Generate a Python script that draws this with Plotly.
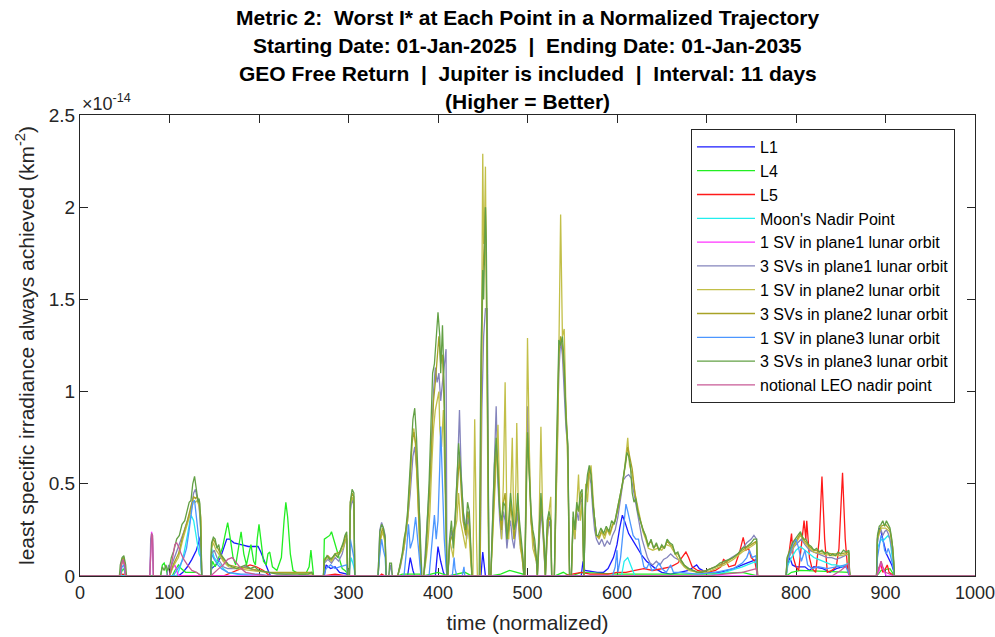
import plotly.graph_objects as go

# ---------------- data (values in units of 1e-14 km^-2) ----------------
series_names = ["L1", "L4", "L5", "Moon's Nadir Point", "1 SV in plane1 lunar orbit",
                "3 SVs in plane1 lunar orbit", "1 SV in plane2 lunar orbit",
                "3 SVs in plane2 lunar orbit", "1 SV in plane3 lunar orbit",
                "3 SVs in plane3 lunar orbit", "notional LEO nadir point"]

L1 = [(0,0),(110,0),(115,0.02),(120,0.05),(125,0.09),(130,0.14),(133,0.19),(135,0.22),(136,0),
      (146,0),(147,0.04),(152,0.06),(157,0.1),(161,0.16),(164,0.2),(167,0.2),(172,0.18),(180,0.17),(188,0.16),(195,0.16),(199,0.16),(202,0.13),(205,0.09),(208,0.05),(211,0.02),(213,0),
      (273,0),(275,0.06),(280,0.04),(285,0.05),(290,0.02),(298,0.01),(299,0),
      (366,0),(369,0.1),(372,0.03),(374,0),
      (397,0),(400,0.16),(403,0.08),(406,0.02),(408,0),
      (448,0),(450,0.13),(452,0.02),(453,0),
      (560,0),(562,0.08),(564,0.03),(578,0.02),(585,0.02),(590,0.04),(596,0.1),(600,0.17),(603,0.26),(606,0.33),(609,0.29),(613,0.23),(618,0.19),(623,0.15),(628,0.11),(633,0.08),(638,0.06),(643,0.04),(650,0.02),(660,0.01),(670,0.02),(680,0.03),(686,0.05),(689,0.06),(692,0.04),(700,0.02),(715,0.02),(730,0.04),(745,0.07),(756,0.09),(757,0),
      (789,0),(790,0.05),(793,0.1),(796,0.06),(800,0.05),(810,0.05),(815,0.03),(820,0.05),(830,0.04),(838,0.02),(845,0.04),(852,0.05),(859,0.05),(860,0),
      (890,0),(891,0.2),(893,0.26),(895,0.24),(897,0.2),(899,0.15),(901,0.12),(903,0.1),(905,0.08),(907,0.06),(909,0.03),(910,0),(1000,0)]

L4 = [(0,0),(45,0),(47,0.03),(49,0.04),(51,0),
      (90,0),(92,0.06),(94,0.07),(96,0.04),(98,0),
      (103,0),(106,0.03),(110,0.06),(113,0.04),(118,0.02),(130,0.02),(136,0),
      (146,0),(148,0.08),(151,0.05),(155,0.1),(159,0.15),(162,0.22),(165,0.29),(168,0.2),(171,0.1),(174,0.06),(177,0.14),(180,0.24),(183,0.12),(186,0.06),(189,0.13),(191,0.17),(194,0.08),(196,0.06),(198,0.2),(200,0.28),(202,0.2),(205,0.08),(208,0.06),(210,0.12),(212,0.13),(215,0.05),(220,0.03),(225,0.1),(228,0.3),(230,0.4),(232,0.32),(235,0.12),(238,0.03),(245,0.01),(252,0.01),(256,0.05),(258,0.14),(260,0.06),(261,0),
      (272,0),(273,0.2),(276,0.21),(279,0.22),(281,0.24),(284,0.19),(287,0.13),(290,0.08),(293,0.04),(296,0.03),(298,0.02),(299,0),
      (355,0),(360,0.01),(380,0.01),(381,0),(384,0),(400,0.02),(410,0),(412,0),(430,0.02),(438,0),(459,0),(470,0.01),(480,0.03),(495,0.01),(496,0),(530,0),(540,0.02),(547,0),(549,0),(560,0.02),(600,0.01),(650,0.01),(700,0.01),(740,0.02),(757,0),
      (789,0),(795,0.02),(805,0.03),(860,0.02),(861,0),(890,0),(895,0.03),(905,0.04),(910,0),(1000,0)]

L5 = [(0,0),(46,0),(48,0.01),(51,0),
      (160,0),(170,0.02),(180,0.04),(190,0.06),(197,0.05),(205,0.03),(212,0),
      (272,0),(285,0.01),(298,0),
      (335,0),(337,0.01),(341,0),
      (540,0),(550,0.01),(560,0.02),(570,0.01),(580,0.01),(590,0.01),(600,0.02),(610,0.02),(620,0.03),(630,0.04),(640,0.03),(650,0.04),(660,0.05),(668,0.07),(673,0.1),(677,0.13),(680,0.1),(684,0.05),(690,0.03),(700,0.02),(710,0.03),(716,0.05),(719,0.09),(722,0.08),(725,0.05),(732,0.06),(737,0.13),(741,0.21),(744,0.14),(747,0.15),(750,0.1),(754,0.08),(757,0),
      (789,0),(791,0.08),(795,0.23),(797,0.1),(800,0.05),(803,0.03),(806,0.15),(809,0.3),(811,0.2),(812,0.3),(815,0.1),(818,0.04),(822,0.02),(826,0.2),(829,0.54),(832,0.2),(835,0.02),(840,0.03),(845,0.05),(848,0.15),(852,0.56),(855,0.2),(858,0.02),(860,0),
      (890,0),(892,0.04),(895,0.06),(897,0.02),(900,0.04),(902,0.06),(904,0.02),(907,0.01),(910,0),(1000,0)]

MOON = [(0,0),(108,0),(112,0.05),(116,0.12),(120,0.22),(124,0.33),(127,0.3),(130,0.2),(133,0.12),(135,0.1),(136,0),
        (146,0),(147,0.15),(150,0.1),(155,0.07),(160,0.04),(165,0.02),(175,0.01),(190,0),
        (300,0),(303,0.1),(306,0.05),(308,0),
        (605,0),(608,0.08),(612,0.1),(616,0.05),(620,0),
        (700,0),(720,0.02),(740,0.05),(756,0.08),(757,0),
        (789,0),(791,0.06),(795,0.1),(800,0.14),(805,0.16),(810,0.14),(815,0.12),(820,0.1),(825,0.09),(830,0.08),(835,0.07),(840,0.06),(845,0.06),(850,0.05),(855,0.06),(859,0.07),(860,0),
        (890,0),(891,0.15),(893,0.18),(895,0.2),(897,0.19),(899,0.2),(901,0.21),(903,0.22),(905,0.2),(907,0.12),(909,0.05),(910,0),(1000,0)]

SV1_P1 = [(0,0),(45,0),(46,0.06),(48,0.08),(50,0.05),(51,0),(78,0),(79,0.2),(80,0.24),(81,0.2),(82,0),
          (100,0),(103,0.04),(106,0.06),(108,0.03),(110,0),
          (890,0),(893,0.03),(895,0.08),(897,0.04),(899,0.02),(901,0),(1000,0)]

SV3_P1 = [(0,0),(45,0),(46,0.07),(48,0.1),(50,0.07),(51,0),(78,0),(79,0.2),(80,0.23),(81,0.22),(82,0),
          (97,0),(99,0.06),(101,0.04),(104,0.08),(108,0.13),(112,0.18),(116,0.24),(120,0.3),(124,0.36),(127,0.45),(129,0.47),(131,0.42),(133,0.38),(135,0.25),(136,0),
          (146,0),(147,0.12),(150,0.14),(153,0.1),(156,0.08),(160,0.05),(165,0.04),(175,0.04),(185,0.05),(195,0.03),(210,0.02),(230,0.01),(259,0.02),(261,0),
          (272,0),(273,0.07),(277,0.09),(281,0.07),(285,0.1),(289,0.08),(293,0.12),(297,0.2),(298,0.2),(299,0),
          (301,0),(302,0.35),(304,0.42),(306,0.38),(307,0),
          (333,0),(335,0.25),(337,0.29),(339,0.26),(341,0.22),(342,0),
          (345,0),(347,0.06),(349,0),
          (355,0),(358,0.05),(362,0.15),(366,0.3),(369,0.45),(372,0.65),(374,0.7),(376,0.6),(378,0.48),(380,0.25),(381,0),
          (384,0),(387,0.2),(390,0.45),(393,0.75),(395,1.0),(397,1.13),(399,1.05),(401,1.1),(403,0.95),(405,1.05),(407,1.15),(409,1.23),(410,0),
          (411,0),(413,0.15),(415,0.25),(417,0.2),(419,0.3),(422,0.6),(424,0.9),(426,0.55),(428,0.35),(430,0.3),(432,0.2),(434,0.35),(436,0.2),(438,0),
          (447,0),(449,0.9),(451,1.3),(453,1.45),(455,1.45),(456,0.6),(457,0),
          (459,0),(461,0.3),(463,0.7),(465,0.92),(467,0.5),(469,0.3),(471,0.2),(473,0.35),(475,0.3),(477,0.15),(479,0.25),(481,0.3),(483,0.2),(485,0.15),(487,0.25),(489,0.35),(491,0.2),(493,0.15),(495,0.08),(496,0),
          (497,0),(499,0.7),(500,0.92),(502,0.6),(504,0.3),(506,0.2),(508,0.15),(510,0.08),(511,0),(513,0.2),(515,0.35),(517,0.25),(519,0.1),(520,0),(522,0.2),(524,0.3),(526,0.25),(527,0),
          (530,0),(532,0.5),(534,0.9),(535,1.1),(537,1.28),(539,1.2),(541,1.0),(543,0.8),(545,0.7),(546,0.3),(547,0),
          (549,0),(551,0.3),(553,0.2),(555,0.35),(557,0.3),(559,0.4),(561,0.42),(562,0.2),(563,0),(565,0.4),(567,0.5),(569,0.55),(571,0.5),(573,0.35),(575,0.25),(577,0.2),(580,0.17),(583,0.2),(586,0.16),(589,0.19),(592,0.17),(595,0.22),(598,0.25),(601,0.32),(604,0.42),(607,0.52),(610,0.54),(613,0.55),(616,0.53),(619,0.45),(622,0.38),(625,0.3),(628,0.2),(631,0.15),(634,0.1),(637,0.07),(640,0.06),(644,0.08),(648,0.06),(652,0.09),(656,0.1),(660,0.12),(664,0.1),(668,0.09),(672,0.07),(676,0.05),(680,0.04),(685,0.03),(690,0.02),(700,0.03),(710,0.05),(720,0.07),(728,0.1),(735,0.12),(740,0.15),(745,0.18),(750,0.2),(753,0.22),(756,0.2),(757,0),
          (789,0),(790,0.08),(794,0.12),(798,0.16),(802,0.18),(806,0.2),(810,0.17),(815,0.14),(820,0.13),(825,0.12),(830,0.11),(835,0.1),(840,0.1),(845,0.09),(850,0.1),(855,0.11),(859,0.12),(860,0),
          (890,0),(891,0.18),(893,0.24),(895,0.25),(897,0.22),(899,0.24),(901,0.25),(903,0.23),(905,0.2),(907,0.15),(909,0.08),(910,0),(1000,0)]

SV1_P2 = [(0,0),(45,0),(47,0.08),(49,0.09),(51,0),
          (100,0),(104,0.05),(110,0.1),(115,0.2),(120,0.28),(124,0.35),(127,0.41),(129,0.4),(131,0.41),(133,0.38),(135,0.3),(136,0),
          (146,0),(147,0.15),(149,0.18),(152,0.14),(155,0.12),(160,0.08),(166,0.05),(175,0.04),(190,0.03),(210,0.02),(259,0.01),(261,0),
          (272,0),(273,0.08),(277,0.1),(281,0.08),(285,0.11),(290,0.12),(294,0.15),(297,0.2),(298,0.2),(299,0),
          (301,0),(302,0.38),(304,0.43),(306,0.4),(307,0),
          (333,0),(336,0.2),(338,0.24),(341,0.18),(342,0),
          (355,0),(358,0.06),(362,0.15),(366,0.3),(369,0.5),(371,0.75),(373,0.8),(375,0.7),(377,0.45),(379,0.2),(381,0),
          (384,0),(387,0.1),(389,0.2),(391,0.35),(393,0.6),(395,0.8),(397,0.9),(399,0.95),(401,1.0),(402,0.8),(404,0.7),(406,0.9),(408,0.5),(410,0),
          (411,0),(413,0.2),(415,0.15),(417,0.1),(419,0.25),(421,0.3),(423,0.45),(425,0.3),(427,0.25),(429,0.2),(431,0.15),(433,0.28),(435,0.2),(437,0.05),(438,0),
          (439,0),(441,0.85),(443,0.2),(444,0),
          (447,0),(448,1.0),(450,2.29),(451,1.8),(452,1.9),(453,2.22),(454,1.5),(455,0.8),(456,0.3),(457,0),
          (459,0),(461,0.2),(463,0.4),(465,0.6),(467,0.82),(469,0.4),(471,0.2),(473,0.5),(475,1.05),(477,0.3),(479,0.2),(481,0.4),(483,0.75),(485,0.2),(487,0.5),(488,0.83),(490,0.3),(492,0.15),(494,0.1),(496,0),
          (497,0),(499,0.8),(500,1.29),(502,0.7),(504,0.3),(506,0.15),(508,0.12),(510,0.08),(511,0),(513,0.3),(515,0.81),(517,0.3),(519,0.1),(520,0),(522,0.2),(524,0.35),(526,0.43),(527,0),
          (530,0),(532,0.4),(534,0.8),(535,1.2),(537,1.96),(539,1.3),(541,1.34),(543,0.9),(545,0.6),(546,0.3),(547,0),
          (549,0),(551,0.3),(553,0.2),(555,0.4),(557,0.55),(559,0.3),(561,0.4),(562,0.2),(563,0),(565,0.5),(567,0.4),(569,0.55),(571,0.6),(573,0.45),(575,0.3),(577,0.22),(580,0.2),(583,0.24),(586,0.2),(589,0.25),(592,0.22),(595,0.27),(598,0.3),(601,0.38),(604,0.45),(607,0.52),(610,0.65),(612,0.75),(614,0.6),(617,0.55),(620,0.45),(623,0.38),(626,0.3),(629,0.24),(632,0.2),(635,0.15),(640,0.14),(645,0.15),(650,0.14),(655,0.17),(660,0.16),(665,0.12),(670,0.08),(675,0.05),(680,0.03),(690,0.02),(700,0.02),(710,0.04),(720,0.06),(730,0.09),(740,0.13),(750,0.16),(756,0.18),(757,0),
          (789,0),(790,0.08),(795,0.14),(800,0.18),(805,0.22),(810,0.18),(815,0.15),(820,0.13),(830,0.12),(840,0.11),(850,0.11),(859,0.12),(860,0),
          (890,0),(891,0.2),(895,0.26),(900,0.26),(905,0.24),(908,0.15),(910,0),(1000,0)]

SV3_P2 = [(0,0),(45,0),(47,0.09),(49,0.1),(51,0),
          (100,0),(104,0.06),(110,0.12),(115,0.22),(120,0.3),(124,0.38),(127,0.43),(129,0.42),(131,0.43),(133,0.4),(135,0.32),(136,0),
          (146,0),(147,0.17),(149,0.2),(152,0.17),(155,0.14),(160,0.09),(166,0.06),(175,0.05),(190,0.04),(210,0.02),(259,0.02),(261,0),
          (272,0),(273,0.09),(277,0.11),(281,0.09),(285,0.12),(290,0.13),(294,0.17),(297,0.22),(298,0.22),(299,0),
          (301,0),(302,0.4),(304,0.45),(306,0.43),(307,0),
          (333,0),(336,0.22),(338,0.26),(341,0.2),(342,0),
          (355,0),(358,0.06),(362,0.17),(366,0.32),(369,0.55),(371,0.72),(373,0.78),(375,0.72),(377,0.5),(379,0.25),(381,0),
          (384,0),(387,0.15),(390,0.4),(393,0.7),(395,0.95),(397,1.05),(399,1.2),(401,1.3),(403,1.15),(405,1.2),(407,0.9),(409,0.4),(410,0),
          (411,0),(413,0.18),(416,0.22),(419,0.28),(422,0.5),(424,0.65),(426,0.45),(428,0.3),(431,0.22),(433,0.35),(435,0.3),(437,0.08),(438,0),
          (447,0),(448,0.9),(450,1.6),(452,1.85),(453,2.0),(454,1.6),(455,1.0),(456,0.4),(457,0),
          (459,0),(461,0.25),(463,0.5),(465,0.7),(467,0.6),(469,0.35),(471,0.25),(473,0.4),(475,0.45),(477,0.2),(479,0.25),(481,0.4),(483,0.3),(485,0.2),(487,0.3),(489,0.4),(491,0.25),(493,0.15),(495,0.08),(496,0),
          (497,0),(499,0.55),(500,0.75),(502,0.55),(504,0.3),(506,0.22),(508,0.15),(510,0.08),(511,0),(513,0.22),(515,0.4),(517,0.28),(519,0.12),(520,0),(522,0.25),(524,0.32),(526,0.3),(527,0),
          (530,0),(532,0.55),(534,0.95),(535,1.2),(537,1.3),(539,1.25),(541,1.1),(543,0.85),(545,0.7),(546,0.3),(547,0),
          (549,0),(551,0.32),(553,0.25),(555,0.38),(557,0.35),(559,0.42),(561,0.45),(562,0.2),(563,0),(565,0.45),(567,0.5),(569,0.58),(571,0.55),(573,0.4),(575,0.3),(577,0.22),(580,0.21),(583,0.25),(586,0.22),(589,0.26),(592,0.23),(595,0.28),(598,0.3),(601,0.36),(604,0.44),(607,0.52),(610,0.62),(612,0.7),(614,0.65),(617,0.58),(620,0.45),(623,0.36),(626,0.3),(629,0.25),(632,0.21),(635,0.17),(638,0.19),(641,0.15),(644,0.17),(647,0.14),(650,0.16),(653,0.15),(656,0.19),(659,0.17),(662,0.16),(665,0.12),(668,0.12),(671,0.09),(675,0.06),(680,0.04),(690,0.02),(700,0.03),(710,0.05),(720,0.07),(730,0.1),(740,0.14),(750,0.17),(756,0.19),(757,0),
          (789,0),(790,0.09),(795,0.15),(800,0.19),(805,0.23),(810,0.19),(815,0.16),(820,0.14),(830,0.13),(840,0.12),(850,0.12),(859,0.13),(860,0),
          (890,0),(891,0.21),(895,0.27),(900,0.28),(905,0.25),(908,0.16),(910,0),(1000,0)]

SV1_P3 = [(0,0),(45,0),(47,0.05),(49,0.06),(51,0),
          (104,0),(108,0.03),(112,0.06),(116,0.1),(119,0.15),(122,0.25),(124,0.33),(126,0.4),(128,0.41),(130,0.32),(132,0.2),(134,0.12),(135,0.1),(136,0),
          (146,0),(147,0.12),(150,0.09),(154,0.06),(158,0.04),(165,0.02),(180,0.01),(200,0.01),(212,0),
          (272,0),(275,0.04),(280,0.06),(285,0.04),(290,0.05),(298,0.06),(299,0),
          (301,0),(302,0.2),(304,0.15),(306,0.1),(307,0),
          (333,0),(335,0.12),(337,0.2),(339,0.14),(341,0.1),(342,0),
          (362,0),(365,0.15),(367,0.28),(369,0.15),(372,0.2),(375,0.32),(377,0.2),(379,0.08),(381,0),
          (390,0),(393,0.15),(396,0.33),(398,0.2),(400,0.3),(402,0.6),(403,0.81),(405,0.5),(407,0.2),(409,0.05),(410,0),
          (416,0),(418,0.1),(419,0.04),(421,0),(427,0),(429,0.05),(430,0),
          (595,0),(598,0.05),(600,0.14),(601,0.02),(604,0.1),(606,0.2),(608,0.32),(610,0.39),(612,0.35),(615,0.28),(618,0.22),(621,0.2),(624,0.2),(627,0.12),(630,0.05),(633,0.04),(636,0.07),(639,0.03),(643,0.04),(647,0.07),(650,0.04),(655,0.02),(660,0.06),(663,0.02),(670,0.02),(690,0.01),(710,0.02),(730,0.04),(740,0.07),(745,0.1),(748,0.14),(751,0.1),(755,0.11),(757,0),
          (789,0),(790,0.06),(793,0.12),(797,0.18),(800,0.2),(803,0.15),(806,0.08),(810,0.14),(813,0.06),(818,0.04),(825,0.05),(835,0.04),(845,0.05),(855,0.06),(860,0),
          (890,0),(891,0.1),(893,0.16),(895,0.22),(897,0.2),(899,0.14),(901,0.12),(903,0.15),(905,0.12),(907,0.08),(909,0.04),(910,0),(1000,0)]

SV3_P3 = [(0,0),(44,0),(45,0.06),(47,0.1),(49,0.11),(51,0.06),(52,0),
          (90,0),(92,0.05),(94,0.03),(96,0.06),(98,0.03),(100,0.05),(102,0.1),(105,0.14),(108,0.2),(111,0.22),(114,0.28),(117,0.3),(120,0.36),(122,0.4),(124,0.41),(126,0.5),(128,0.54),(130,0.48),(132,0.4),(133,0.42),(134,0.39),(135,0.2),(136,0),
          (146,0),(147,0.18),(149,0.21),(151,0.2),(153,0.15),(155,0.17),(157,0.12),(160,0.1),(163,0.08),(166,0.06),(170,0.05),(175,0.04),(180,0.05),(185,0.06),(190,0.04),(195,0.05),(200,0.03),(210,0.02),(220,0.01),(240,0.01),(255,0.01),(259,0.02),(261,0),
          (272,0),(273,0.08),(276,0.11),(279,0.09),(282,0.1),(285,0.12),(288,0.1),(291,0.14),(294,0.18),(296,0.22),(298,0.24),(299,0),
          (301,0),(302,0.4),(304,0.47),(306,0.45),(307,0),
          (333,0),(335,0.24),(337,0.28),(339,0.26),(341,0.2),(342,0),
          (345,0),(346,0.07),(348,0.07),(349,0),
          (355,0),(357,0.05),(360,0.12),(362,0.2),(364,0.25),(366,0.35),(368,0.5),(370,0.7),(372,0.85),(374,0.91),(376,0.75),(378,0.5),(380,0.3),(381,0.12),(382,0),
          (384,0),(386,0.1),(388,0.3),(390,0.5),(392,0.8),(394,1.1),(396,1.15),(398,1.3),(400,1.43),(402,1.3),(403,1.1),(405,1.36),(407,1.0),(408,0.6),(409,0.3),(410,0),
          (411,0),(413,0.2),(415,0.3),(417,0.15),(419,0.3),(421,0.55),(423,0.72),(425,0.6),(427,0.42),(429,0.3),(431,0.25),(433,0.4),(435,0.35),(437,0.1),(438,0),
          (446,0),(448,1.2),(450,1.66),(451,1.5),(453,2.0),(454,1.8),(455,1.2),(456,0.5),(457,0),
          (459,0),(461,0.3),(463,0.6),(465,0.75),(467,0.55),(469,0.35),(471,0.3),(473,0.4),(475,0.38),(477,0.2),(479,0.3),(481,0.45),(483,0.35),(485,0.25),(487,0.3),(489,0.45),(491,0.3),(493,0.2),(495,0.1),(496,0),
          (497,0),(499,0.6),(500,0.78),(502,0.55),(504,0.35),(506,0.25),(508,0.2),(510,0.1),(511,0),(513,0.25),(515,0.45),(517,0.3),(519,0.15),(520,0),(522,0.3),(524,0.35),(526,0.3),(527,0),
          (530,0),(532,0.6),(534,1.0),(535,1.28),(537,1.25),(539,1.3),(541,1.15),(543,0.85),(545,0.72),(546,0.3),(547,0),
          (549,0),(551,0.35),(553,0.25),(555,0.4),(557,0.35),(559,0.45),(561,0.47),(562,0.2),(563,0),(565,0.45),(567,0.55),(569,0.6),(571,0.55),(573,0.4),(575,0.3),(577,0.22),(579,0.22),(582,0.26),(585,0.23),(588,0.27),(591,0.24),(594,0.3),(597,0.28),(600,0.35),(603,0.42),(606,0.5),(609,0.6),(611,0.67),(613,0.65),(615,0.6),(617,0.45),(619,0.4),(621,0.42),(623,0.35),(626,0.3),(629,0.25),(632,0.22),(635,0.16),(638,0.2),(641,0.15),(644,0.18),(647,0.14),(650,0.17),(653,0.15),(656,0.2),(659,0.18),(662,0.17),(665,0.12),(668,0.13),(671,0.09),(675,0.06),(680,0.04),(685,0.03),(690,0.02),(695,0.02),(700,0.03),(705,0.04),(710,0.05),(715,0.07),(720,0.08),(725,0.09),(730,0.1),(735,0.12),(740,0.15),(745,0.16),(750,0.18),(753,0.2),(756,0.2),(757,0),
          (789,0),(790,0.1),(793,0.14),(796,0.18),(799,0.2),(802,0.22),(805,0.24),(808,0.2),(811,0.2),(814,0.17),(817,0.16),(820,0.14),(823,0.15),(826,0.13),(829,0.14),(832,0.12),(835,0.13),(838,0.11),(841,0.12),(844,0.11),(847,0.13),(850,0.12),(853,0.14),(856,0.13),(859,0.14),(860,0),
          (890,0),(891,0.22),(893,0.27),(895,0.28),(897,0.3),(899,0.27),(901,0.3),(903,0.28),(905,0.26),(907,0.2),(909,0.1),(910,0),(1000,0)]

LEO = [(0,0),(45,0),(46,0.06),(48,0.09),(50,0.06),(51,0),
       (78,0),(79,0.18),(80,0.23),(81,0.22),(82,0),
       (100,0),(102,0.05),(104,0.12),(106,0.17),(108,0.18),(110,0.16),(113,0.12),(116,0.09),(120,0.06),(125,0.03),(130,0.02),(136,0),
       (146,0),(150,0.02),(155,0.04),(160,0.06),(165,0.09),(170,0.1),(175,0.07),(180,0.04),(185,0.02),(195,0.01),(210,0),
       (700,0),(720,0.01),(740,0.02),(756,0.04),(757,0),
       (840,0),(850,0.03),(855,0.05),(859,0.07),(860,0),
       (890,0),(893,0.05),(895,0.08),(897,0.05),(900,0.02),(910,0),(1000,0)]

all_series = [L1, L4, L5, MOON, SV1_P1, SV3_P1, SV1_P2, SV3_P2, SV1_P3, SV3_P3, LEO]
colors = ["#1A1AFF", "#22EE22", "#FF1A1A", "#22EEEE", "#FF33FF", "#8484BC",
          "#C2BF48", "#A8A226", "#4C96FF", "#62A044", "#C85A96"]

x_ticks = list(range(0, 1001, 100))
y_ticks = [0, 0.5, 1, 1.5, 2, 2.5]
y_tick_text = ["0", "0.5", "1", "1.5", "2", "2.5"]

title_lines = ["Metric 2:  Worst I* at Each Point in a Normalized Trajectory",
               "Starting Date: 01-Jan-2025  |  Ending Date: 01-Jan-2035",
               "GEO Free Return  |  Jupiter is included  |  Interval: 11 days",
               "(Higher = Better)"]

# ---------------- figure ----------------
FONT = "Liberation Sans, Arial, sans-serif"
fig = go.Figure()
for i, (name, data, col) in enumerate(zip(series_names, all_series, colors)):
    fig.add_trace(go.Scatter(
        x=[p[0] for p in data], y=[p[1] for p in data], mode="lines",
        name=name, line=dict(color=col, width=1.3)))

axis_col = "#262626"
L, R, T, B = 80, 20, 115, 61
plot_w = 995 - L - R
plot_h = 637 - T - B
fig.update_layout(
    width=995, height=637, paper_bgcolor="white", plot_bgcolor="white",
    margin=dict(l=L, r=R, t=T, b=B, pad=0, autoexpand=False),
    font=dict(family=FONT, color=axis_col),
    showlegend=True,
    legend=dict(x=(955 - L) / plot_w, y=(576 - 129) / plot_h, xanchor="right", yanchor="top",
                bgcolor="white", bordercolor=axis_col, borderwidth=1,
                font=dict(family=FONT, size=16, color="#000000"),
                itemwidth=58, tracegroupgap=0),
    xaxis=dict(range=[0, 1000], tickvals=x_ticks, ticks="inside", ticklen=8,
               tickcolor=axis_col, showline=True, linecolor=axis_col, linewidth=1,
               mirror="ticks", showgrid=False, zeroline=False, layer="below traces",
               ticklabeloverflow="allow", automargin=False,
               tickfont=dict(size=18, color=axis_col),
               title=dict(text="time (normalized)", font=dict(size=21, color=axis_col), standoff=13)),
    yaxis=dict(range=[0, 2.5], tickvals=y_ticks, ticktext=y_tick_text, ticks="inside", ticklen=8,
               tickcolor=axis_col, showline=True, linecolor=axis_col, linewidth=1,
               mirror="ticks", showgrid=False, zeroline=False, layer="below traces",
               ticklabeloverflow="allow", automargin=False,
               tickfont=dict(size=19, color=axis_col),
               title=dict(text="least specific irradiance always achieved (km<sup>-2</sup>)",
                          font=dict(size=21, color=axis_col), standoff=8)),
)

title_y_px = [17, 45, 73, 101]
for txt, ypx in zip(title_lines, title_y_px):
    fig.add_annotation(text=f"<b>{txt}</b>", xref="paper", yref="paper",
                       x=0.5, y=(576 - ypx) / plot_h, xanchor="center", yanchor="middle",
                       showarrow=False, font=dict(family=FONT, size=21, color="#000000"))

fig.add_annotation(text="\u00d710<sup>-14</sup>", xref="paper", yref="paper",
                   x=0.0, y=(576 - 102) / plot_h, xanchor="left", yanchor="middle",
                   showarrow=False, font=dict(family=FONT, size=18, color=axis_col))

fig.write_html("out.html")
